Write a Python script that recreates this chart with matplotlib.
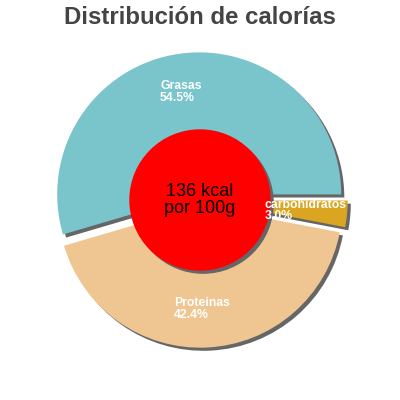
import matplotlib.pyplot as plt
import numpy as np

# data
labels = ["Grasas", "Proteinas", "carbohidratos"]
shares = [54.5, 42.4, 3.0]
colors = ["#7ac4cc", "#efc691", "#daa520"]
energy_text = "136 kcal\npor 100g"
title = "Distribución de calorías"

plt.rcParams['font.family'] = ['Liberation Sans', 'DejaVu Sans']

fig = plt.figure(figsize=(4, 4), dpi=100)
ax = fig.add_axes([0, 0, 1, 1])
lim = 200 / 142

explode = [0.04, 0.04, 0.04]
sh = 0.022  # shadow offset (right, down)

# shadow pie, then the real one
ax.pie(shares, colors=["#666666"] * 3, startangle=0, counterclock=True,
       explode=explode, center=(sh, -sh), radius=1, frame=True)
wedges, _ = ax.pie(shares, colors=colors, startangle=0, counterclock=True,
                   explode=explode, radius=1, frame=True)
ax.set_xlim(-lim, lim)
ax.set_ylim(-lim, lim)
ax.set_aspect('equal')
ax.axis('off')

# center circle
ax.add_patch(plt.Circle((sh, -sh), 0.493, color="#666666", zorder=3))
ax.add_patch(plt.Circle((0, 0), 0.493, color="#ff0000", zorder=4))
ax.text(0, 0, energy_text, ha='center', va='center', fontsize=13,
        color='black', zorder=5, linespacing=1.0)

# labels (drawn on top of everything)
for w, lab, v in zip(wedges, labels, shares):
    mid = np.deg2rad((w.theta1 + w.theta2) / 2)
    r = 0.77
    ax.text(r * np.cos(mid) - 0.025, r * np.sin(mid), f"{lab}\n{v:.1f}%",
            ha='center', va='center', multialignment='left', zorder=6,
            color='white', fontsize=8.8, fontweight='bold', linespacing=0.95)

fig.text(0.5, 0.955, title, ha='center', va='center', fontsize=17.3,
         fontweight='bold', color='#444444')

fig.savefig("out.png", dpi=100)
